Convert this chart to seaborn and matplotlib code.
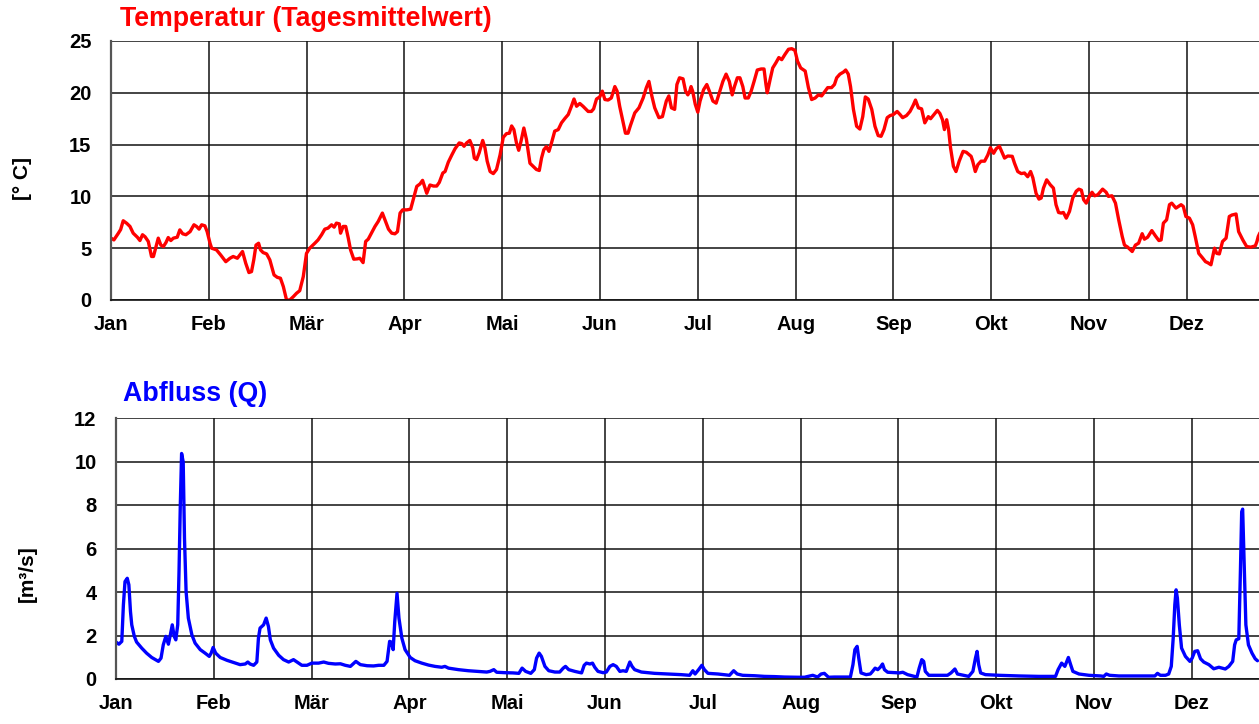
import numpy as np
import pandas as pd
import matplotlib
matplotlib.use("Agg")
import matplotlib.pyplot as plt
import seaborn as sns

# month labels (equal-width month grid, 365/12 days each)
months = ["Jan", "Feb", "Mär", "Apr", "Mai", "Jun", "Jul", "Aug", "Sep", "Okt", "Nov", "Dez"]

# daily mean temperature [deg C] (day of year, value)
temp_day = [
    0.0, 0.9, 2.3, 3.0, 3.8, 4.9, 5.9, 6.9, 8.2, 9.0, 9.8, 10.6, 11.6, 12.6, 13.2, 14.0,
    14.7, 15.5, 16.3, 17.1, 17.8, 18.6, 19.4, 20.6, 21.4, 22.3, 23.3, 24.6, 25.8, 26.6,
    27.4, 28.2, 29.2, 29.9, 30.8, 31.3, 32.8, 34.1, 35.7, 37.0, 38.0, 39.3, 40.1, 40.9,
    41.9, 42.9, 43.7, 44.4, 45.1, 45.9, 46.5, 47.3, 48.4, 49.4, 50.7, 51.7, 52.7, 53.6,
    54.6, 55.6, 56.7, 57.7, 58.7, 59.8, 60.8, 61.8, 63.4, 64.4, 65.5, 66.5, 67.5, 68.6,
    69.4, 70.1, 71.0, 71.4, 72.2, 73.0, 73.8, 74.5, 75.5, 76.6, 77.4, 78.4, 79.2, 80.0,
    81.0, 82.1, 83.1, 84.4, 85.2, 86.3, 87.3, 88.3,
    89.1, 89.9, 90.7, 92.0, 93.2, 94.0, 95.1, 96.1, 96.9, 97.7, 98.2, 99.2, 100.3, 101.3,
    102.1, 103.2, 103.9, 104.9, 106.0, 107.0, 108.3, 109.1, 109.8, 110.6, 111.6, 112.5,
    113.0, 113.7, 114.5, 115.6, 116.3, 117.0, 117.9, 118.9, 119.9, 121.0, 122.0, 123.0,
    123.9, 124.6, 125.3, 126.1, 126.8, 127.5, 128.4, 129.2, 130.3, 131.3, 132.3, 133.2,
    133.9, 134.6, 135.4, 136.2, 137.0, 138.0, 139.1, 140.1, 141.1, 142.2, 143.2, 144.0,
    144.8, 145.8, 146.8, 148.4, 149.4, 150.1, 151.0, 152.0, 152.8, 153.6, 154.6, 155.6,
    156.7, 157.4, 158.2, 159.3, 160.0, 160.8, 161.5, 162.9, 164.2, 165.5, 166.5, 167.3,
    168.2, 169.1, 170.4, 171.5, 172.7, 173.5, 174.3, 175.3, 176.0, 176.8, 177.9, 178.7,
    179.4, 180.0,
    180.4, 180.9, 181.7, 182.5, 183.2, 184.3, 185.3, 186.1, 187.2, 188.2, 189.2, 190.3,
    191.3, 192.3, 193.2, 193.9, 194.8, 195.6, 196.5, 197.2, 198.2, 199.1, 200.0, 201.0,
    202.2, 203.1, 203.7, 204.1, 205.0, 205.8, 206.8, 207.7, 208.6, 209.6, 210.7, 211.7,
    212.7, 213.5, 214.5, 215.9, 216.9, 217.9, 219.0, 220.0, 221.0, 222.1, 222.9, 224.1,
    225.0, 225.7, 226.7, 227.8, 228.5, 229.3, 230.0, 230.9, 231.9, 232.9, 233.8, 234.6,
    235.5, 236.6, 237.6, 238.6, 239.5, 240.4, 241.4, 242.3, 243.3, 244.5, 245.4, 246.2,
    247.4, 248.5, 249.5, 250.2, 251.1, 252.1, 253.1, 254.2, 254.9, 255.7, 257.0, 257.8,
    258.6, 259.2, 259.9, 260.5, 261.1, 262.0, 262.8, 263.8,
    265.0, 266.0, 267.5, 268.0, 268.8, 269.6, 270.6, 271.7, 272.7, 273.5, 274.5, 275.3,
    276.3, 277.2, 277.9, 278.9, 280.3, 281.0, 282.0, 283.1, 284.1, 285.1, 286.0, 286.7,
    287.7, 288.6, 289.3, 290.0, 291.0, 292.1, 293.1, 293.9, 294.7, 295.5, 296.2, 297.1,
    298.1, 299.1, 300.2, 301.0, 301.8, 302.5, 303.3, 304.3, 305.1, 305.9, 306.9, 308.4,
    309.5, 310.2, 311.3, 312.4, 313.4, 314.5, 315.2, 316.2, 317.6, 318.6, 319.6, 320.7,
    321.4, 322.4, 323.7, 324.8, 325.9, 326.6, 327.3, 328.3, 329.2, 329.9, 331.2, 332.8,
    333.5, 334.3, 335.4, 336.4, 337.2, 338.3, 339.3, 340.4, 341.1, 342.1, 343.2, 343.9,
    344.7, 345.7, 346.8, 347.8, 348.6, 349.9, 350.7, 352.0, 353.2, 354.5, 355.9, 356.4,
    356.8, 357.5,
]
temp_val = [
    5.97, 5.8, 6.45, 6.8, 7.65, 7.4, 7.1, 6.45, 6.06, 5.74, 6.3, 6.1, 5.65, 4.2, 4.2, 5.16,
    5.97, 5.3, 5.16, 5.55, 6.03, 5.74, 5.97, 6.06, 6.77, 6.39, 6.3, 6.6, 7.26, 7.1,
    6.84, 7.26, 7.16, 6.6, 5.48, 5.0, 4.84, 4.35, 3.7, 4.03, 4.2, 4.03, 4.35, 4.68,
    3.55, 2.65, 2.74, 3.87, 5.3, 5.48, 4.84, 4.58, 4.45, 3.87, 2.42, 2.19, 2.1, 1.29,
    0.0, 0.0, 0.32, 0.65, 0.9, 2.26, 4.5, 5.0, 5.48, 5.8, 6.3, 6.84, 6.94, 7.26,
    7.03, 7.42, 7.35, 6.45, 7.1, 7.1, 5.97, 4.84, 3.94, 3.97, 4.03, 3.61, 5.65, 5.87,
    6.45, 7.1, 7.58, 8.39, 7.74, 6.84, 6.45, 6.39,
    6.6, 8.39, 8.7, 8.7, 8.77, 9.68, 10.97, 11.2, 11.55, 10.8, 10.3, 11.1, 11.0, 11.0,
    11.35, 12.26, 12.4, 13.3, 14.0, 14.6, 15.16, 15.1, 14.84, 15.16, 15.4, 14.7,
    13.7, 13.55, 14.2, 15.4, 14.7, 13.4, 12.4, 12.2, 12.6, 14.0, 15.7, 16.06,
    16.1, 16.8, 16.45, 15.16, 14.45, 15.3, 16.6, 15.5, 13.2, 12.9, 12.6, 12.5,
    13.7, 14.5, 14.8, 14.35, 15.16, 16.3, 16.45, 17.1, 17.5, 17.9, 18.7, 19.4,
    18.7, 18.97, 18.7, 18.2, 18.2, 18.45, 19.4, 19.6, 20.16, 19.35, 19.3, 19.5,
    20.6, 20.16, 18.7, 17.1, 16.1, 16.1, 16.8, 18.06, 18.55, 19.5, 20.5, 21.1,
    19.7, 18.55, 17.6, 17.7, 19.2, 19.7, 18.55, 18.4, 20.8, 21.45, 21.35, 20.16,
    19.8, 20.16,
    20.6, 20.16, 18.9, 18.13, 19.2, 20.3, 20.8, 20.16, 19.2, 19.0, 20.0, 21.1,
    21.8, 21.1, 19.8, 20.6, 21.45, 21.45, 20.6, 19.5, 19.5, 20.16, 21.1, 22.2,
    22.3, 22.3, 20.8, 20.0, 21.3, 22.4, 22.9, 23.4, 23.2, 23.7, 24.2, 24.26,
    24.1, 23.06, 22.4, 22.1, 20.5, 19.35, 19.5, 19.8, 19.7, 20.16, 20.5, 20.5,
    20.8, 21.45, 21.8, 22.0, 22.2, 21.8, 20.6, 18.4, 16.77, 16.5, 17.7, 19.6,
    19.4, 18.4, 16.77, 15.87, 15.8, 16.45, 17.6, 17.8, 17.9, 18.2, 17.9, 17.6,
    17.8, 18.2, 18.8, 19.3, 18.55, 18.45, 17.1, 17.7, 17.5, 17.8, 18.3, 18.0,
    17.4, 16.45, 17.4, 16.45, 14.7, 12.9, 12.4, 13.4,
    14.35, 14.26, 13.87, 13.4, 12.4, 13.06, 13.4, 13.4, 14.0, 14.7, 14.16, 14.6,
    14.84, 14.2, 13.7, 13.9, 13.87, 13.2, 12.4, 12.2, 12.26, 11.9, 12.4, 11.8,
    10.3, 9.74, 9.84, 10.8, 11.6, 11.13, 10.8, 9.2, 8.45, 8.39, 8.45, 7.9,
    8.55, 9.84, 10.5, 10.7, 10.6, 9.68, 9.35, 10.0, 10.4, 10.06, 10.16, 10.7,
    10.4, 10.0, 10.06, 9.35, 7.74, 6.13, 5.3, 5.1, 4.68, 5.3, 5.48, 6.4,
    5.87, 6.06, 6.7, 6.2, 5.74, 5.8, 7.42, 7.74, 9.2, 9.35, 8.87, 9.2,
    9.03, 8.06, 7.9, 7.26, 6.13, 4.5, 4.13, 3.7, 3.6, 3.4, 5.0, 4.5,
    4.45, 5.65, 5.97, 8.06, 8.2, 8.3, 6.6, 5.8, 5.16, 5.1, 5.23, 5.65,
    6.13, 6.6,
]

# discharge Q [m3/s] (day of year, value)
q_day = [
    0.0, 0.9, 1.8, 2.3, 2.8, 3.5, 4.0, 4.5, 4.9, 5.7, 6.4, 8.0, 9.5, 11.1, 13.2, 14.0,
    14.7, 15.5, 16.3, 16.9, 17.5, 18.1, 18.6, 19.2, 19.6, 20.0, 20.4, 20.9, 21.3, 21.8,
    22.5, 23.6, 24.6, 26.2, 27.7, 29.0, 29.6, 30.2, 31.0, 32.4, 34.5, 36.5, 38.6, 40.2,
    41.0, 41.7, 42.8, 43.8, 44.3, 44.8, 45.9, 46.7, 47.4, 48.0, 49.0, 50.6, 52.1, 53.7,
    55.2, 56.3, 57.8, 59.4, 60.9, 63.0, 64.6, 66.1, 68.2, 69.8, 71.3, 72.9, 74.6, 76.0,
    78.1, 80.1, 81.7, 83.3, 84.3, 85.1, 85.6, 86.2, 86.7, 87.4,
    88.0, 88.9, 89.9, 91.5, 93.0, 95.1, 97.2, 99.2, 101.3, 102.3, 103.4, 106.5, 109.6,
    112.7, 115.3, 116.3, 117.5, 118.4, 121.0, 123.5, 125.3, 126.3, 127.4, 129.0, 130.1,
    130.8, 131.6, 132.3, 133.4, 134.6, 136.5, 138.0, 139.1, 139.8, 140.8, 142.7, 144.8,
    145.6, 146.3, 147.4, 148.2, 148.9, 149.9, 151.5, 152.5, 153.6, 154.6, 155.6, 156.7,
    157.7, 158.7, 159.8, 160.5, 161.3, 163.4, 167.5, 171.7, 175.8,
    178.4, 179.4, 180.1, 181.2, 182.2, 183.0, 184.1, 187.2, 190.8, 191.5, 192.1, 193.2,
    194.9, 198.6, 201.7, 204.8, 207.9, 212.0, 214.1, 216.7, 218.2, 219.3, 220.3, 221.6,
    223.4, 226.5, 228.4, 229.2, 229.8, 230.5, 231.0, 231.7, 233.3, 234.6, 235.3, 236.1,
    236.9, 237.7, 238.4, 239.0, 240.0, 242.1, 243.6, 244.7, 246.2, 248.3, 249.1, 249.8,
    250.6, 251.2, 251.7, 252.8, 255.5, 258.6, 259.7, 260.9, 261.7,
    265.2, 266.5, 267.3, 267.8, 268.3, 268.9, 270.4, 274.6, 280.8, 287.0, 292.2, 293.0,
    294.1, 295.1, 296.2, 296.9, 297.6, 299.5, 302.6, 306.2, 307.2, 308.0, 309.0, 311.9,
    316.0, 320.2, 323.1, 323.9, 324.8, 326.4, 327.4, 328.2, 328.8, 329.3, 329.7, 330.1,
    330.7, 331.4, 332.6, 334.0, 334.7, 335.5, 336.4, 337.3, 338.3, 339.9, 341.4, 343.0,
    344.0, 345.0, 346.1, 347.3, 347.9, 348.4, 349.2, 349.7, 350.1, 350.4, 350.8, 351.4,
    352.2, 353.3, 354.3, 355.0,
]
q_val = [
    1.7, 1.6, 1.73, 3.41, 4.48, 4.63, 4.33, 3.1, 2.49, 1.96, 1.7, 1.42, 1.19, 0.99, 0.81, 0.96,
    1.57, 1.96, 1.6, 2.03, 2.49, 1.96, 1.8, 2.49, 4.94, 8.0, 10.37, 9.98, 6.47, 4.02,
    2.8, 2.03, 1.65, 1.35, 1.19, 1.04, 1.19, 1.45, 1.19, 0.99, 0.86, 0.76, 0.66, 0.69,
    0.78, 0.69, 0.63, 0.78, 1.88, 2.34, 2.49, 2.8, 2.42, 1.8, 1.42, 1.09, 0.89, 0.78,
    0.89, 0.78, 0.63, 0.63, 0.73, 0.73, 0.78, 0.72, 0.69, 0.7, 0.63, 0.58, 0.81, 0.66,
    0.61, 0.6, 0.63, 0.63, 0.81, 1.73, 1.7, 1.35, 2.65, 3.94,
    2.8, 1.88, 1.35, 0.99, 0.84, 0.73, 0.64, 0.58, 0.54, 0.58, 0.5, 0.43, 0.38,
    0.35, 0.32, 0.35, 0.43, 0.31, 0.29, 0.28, 0.26, 0.5, 0.35, 0.26, 0.43,
    0.96, 1.19, 1.04, 0.58, 0.38, 0.32, 0.32, 0.5, 0.58, 0.43, 0.35, 0.28,
    0.63, 0.73, 0.69, 0.73, 0.54, 0.35, 0.29, 0.32, 0.58, 0.66, 0.58, 0.35,
    0.38, 0.35, 0.78, 0.58, 0.43, 0.32, 0.26, 0.23, 0.2,
    0.17, 0.38, 0.23, 0.43, 0.63, 0.43, 0.26, 0.23, 0.17, 0.28, 0.38, 0.23,
    0.17, 0.15, 0.12, 0.11, 0.09, 0.08, 0.08, 0.17, 0.09, 0.23, 0.26, 0.08,
    0.09, 0.09, 0.09, 0.66, 1.35, 1.5, 0.96, 0.28, 0.2, 0.23, 0.35, 0.5,
    0.43, 0.54, 0.69, 0.43, 0.31, 0.29, 0.28, 0.31, 0.2, 0.12, 0.09, 0.5,
    0.89, 0.81, 0.35, 0.17, 0.17, 0.17, 0.28, 0.46, 0.23,
    0.12, 0.35, 0.96, 1.27, 0.66, 0.28, 0.2, 0.17, 0.14, 0.12, 0.12, 0.43,
    0.73, 0.58, 0.99, 0.66, 0.35, 0.23, 0.17, 0.14, 0.12, 0.23, 0.17, 0.14,
    0.14, 0.14, 0.14, 0.26, 0.17, 0.17, 0.23, 0.58, 1.88, 3.41, 4.1, 3.72,
    2.49, 1.42, 1.04, 0.81, 0.96, 1.27, 1.3, 0.93, 0.78, 0.66, 0.47, 0.54,
    0.5, 0.46, 0.58, 0.81, 1.57, 1.8, 1.85, 4.94, 7.69, 7.81, 5.7, 2.49,
    1.57, 1.19, 0.93, 0.84,
]

temp_df = pd.DataFrame({"day": temp_day, "temp": temp_val})
q_df = pd.DataFrame({"day": q_day, "q": q_val})

sns.set_style("white")
plt.rcParams["font.family"] = ["Liberation Sans", "DejaVu Sans"]
plt.rcParams["font.weight"] = "bold"
plt.rcParams["text.color"] = "black"
plt.rcParams["xtick.color"] = "black"
plt.rcParams["ytick.color"] = "black"
plt.rcParams["lines.solid_joinstyle"] = "round"
plt.rcParams["lines.solid_capstyle"] = "round"

fig = plt.figure(figsize=(12.59, 7.24), dpi=100)
W, H = 1259, 724
month_len = 365 / 12
px_per_day = 97.8 / month_len


def style_axes(ax, ymax, ystep, x0_px):
    ax.set_ylim(0, ymax)
    ax.set_yticks(np.arange(0, ymax + 0.1, ystep))
    ax.set_xlim(0, (W - x0_px) / px_per_day)
    ax.set_xticks(np.arange(12) * month_len)
    ax.set_xticklabels(months)
    ax.grid(True, color="#111111", linewidth=1.1)
    ax.set_axisbelow(True)
    for side in ["top", "right"]:
        ax.spines[side].set_visible(False)
    ax.spines["left"].set_color("#555555")
    ax.spines["left"].set_linewidth(1.6)
    ax.spines["bottom"].set_color("#111111")
    ax.spines["bottom"].set_linewidth(1.2)
    ax.tick_params(axis="x", direction="out", length=4, width=1.1, color="#222222",
                   pad=7, labelsize=14.5, labelcolor="black")
    ax.tick_params(axis="y", length=0, pad=14, labelsize=14.5, labelcolor="black")
    for lab in ax.get_xticklabels() + ax.get_yticklabels():
        lab.set_fontweight("bold")
    ax.set_xlabel("")
    ax.set_ylabel("")


# top panel: temperature
ax1 = fig.add_axes([111 / W, 1 - 300 / H, 1 - 111 / W, (300 - 41) / H])
sns.lineplot(data=temp_df, x="day", y="temp", ax=ax1, color="#ff0000",
             linewidth=2.4, sort=False, estimator=None)
style_axes(ax1, 25, 5, 111)

# bottom panel: discharge
ax2 = fig.add_axes([116 / W, 1 - 679 / H, 1 - 116 / W, (679 - 418) / H])
sns.lineplot(data=q_df, x="day", y="q", ax=ax2, color="#0000ff",
             linewidth=2.4, sort=False, estimator=None)
style_axes(ax2, 12, 2, 116)

fig.text(120 / W, 1 - 19 / H, "Temperatur (Tagesmittelwert)", color="#ff0000",
         fontsize=19.3, fontweight="bold", ha="left", va="center")
fig.text(123 / W, 1 - 394 / H, "Abfluss (Q)", color="#0000ff",
         fontsize=19.3, fontweight="bold", ha="left", va="center")
fig.text(22 / W, 1 - 178 / H, "[° C]", rotation=90, fontsize=15,
         fontweight="bold", ha="center", va="center")
fig.text(27 / W, 1 - 574 / H, "[m³/s]", rotation=90, fontsize=15,
         fontweight="bold", ha="center", va="center")

fig.savefig("out.png", dpi=100)
